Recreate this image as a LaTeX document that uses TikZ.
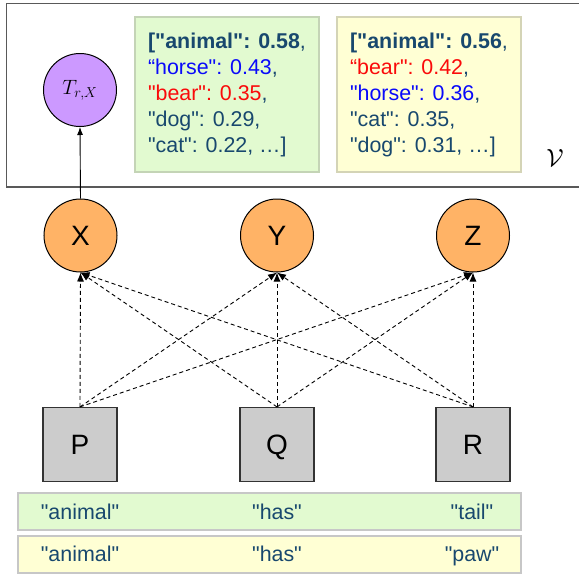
\documentclass[tikz,border=0pt]{standalone}
\usepackage{amsmath}
\usepackage{fontspec}
\setmainfont{Liberation Sans}[Ligatures=TeXOff]
\usetikzlibrary{arrows.meta}

\definecolor{varorange}{HTML}{FFB366}
\definecolor{headpurple}{HTML}{CC99FF}
\definecolor{tokgray}{HTML}{CCCCCC}
\definecolor{greenfill}{HTML}{E2FAD0}
\definecolor{yellowfill}{HTML}{FFFFD4}
\definecolor{greenedge}{HTML}{C4D4B6}
\definecolor{yellowedge}{HTML}{D4D4B6}
\definecolor{wordblue}{RGB}{24,72,110}
\definecolor{hiblue}{RGB}{10,10,250}
\definecolor{hired}{RGB}{250,10,10}

\begin{document}
\begin{tikzpicture}[x=1pt,y=-1pt,
	var/.style={circle,draw,line width=1pt,fill=varorange,minimum size=73pt,inner sep=0pt,text height=20pt,text depth=0pt,font=\fontsize{28}{28}\selectfont},
	head/.style={circle,draw,line width=1pt,fill=headpurple,minimum size=73pt,inner sep=0pt,font=\fontsize{20}{20}\selectfont},
	tok/.style={rectangle,draw=black!80,line width=1.2pt,fill=tokgray,minimum width=74pt,minimum height=74pt,inner sep=0pt,text height=20pt,text depth=0pt,font=\fontsize{28}{28}\selectfont},
	scores/.style={rectangle,line width=2pt,minimum width=184pt,minimum height=155pt,align=left,text=wordblue,font=\fontsize{21.4}{26}\selectfont},
	strip/.style={rectangle,draw=black!22,line width=2.5pt,minimum width=503pt,minimum height=37pt,inner sep=0pt},
	word/.style={text=wordblue,text height=15pt,text depth=0pt,font=\fontsize{21.4}{21}\selectfont},
	link/.style={-{Latex[length=9pt,width=7pt]},dashed,dash pattern=on 4pt off 3pt,line width=0.9pt}]
		\useasboundingbox (0,0) rectangle (579,574);

		% vocabulary frame
		\draw [draw=black!65,line width=1.5pt] (6.5,3.5) rectangle (592,187);
		\draw (555,158) node (vocab){\fontsize{26}{26}\selectfont$\mathcal{V}$};

		\draw (80,90) node [head] (T){$T_{r,X}$};
		\draw (227,94.5) node [scores,draw=greenedge,fill=greenfill] (tail){%
			\textbf{["animal": 0.58},\\
			\textcolor{hiblue}{“horse": 0.43},\\
			\textcolor{hired}{"bear": 0.35},\\
			"dog": 0.29,\\
			"cat": 0.22, …]};
		\draw (429,94.5) node [scores,draw=yellowedge,fill=yellowfill] (paw){%
			\textbf{["animal": 0.56},\\
			\textcolor{hired}{“bear": 0.42},\\
			\textcolor{hiblue}{"horse": 0.36},\\
			"cat": 0.35,\\
			"dog": 0.31, …]};

		\draw (80.5,235.5) node [var] (X){X};
		\draw (277,235.5) node [var] (Y){Y};
		\draw (473,235.5) node [var] (Z){Z};
		\draw (80,444.5) node [tok] (P){P};
		\draw (277,444.5) node [tok] (Q){Q};
		\draw (473,444.5) node [tok] (R){R};

		\draw (269.5,511.5) node [strip,fill=greenfill] (s1){};
		\draw (269.5,554.5) node [strip,fill=yellowfill] (s2){};
		\draw (80,512) node [word] (a1){"animal"};
		\draw (277,512) node [word] (h1){"has"};
		\draw (472,512) node [word] (t1){"tail"};
		\draw (80,554) node [word] (a2){"animal"};
		\draw (277,554) node [word] (h2){"has"};
		\draw (472,554) node [word] (p2){"paw"};

		\draw [-{Latex[length=8pt,width=6pt]},line width=0.9pt] (X.north) -- (T.south);

		\path [link]
		(P.north) edge (X.south)
			 edge (Y.south)
			 edge (Z.south)
		(Q.north) edge (X.south)
			 edge (Y.south)
			 edge (Z.south)
		(R.north) edge (X.south)
			 edge (Y.south)
			 edge (Z.south);
	\end{tikzpicture}
\end{document}
